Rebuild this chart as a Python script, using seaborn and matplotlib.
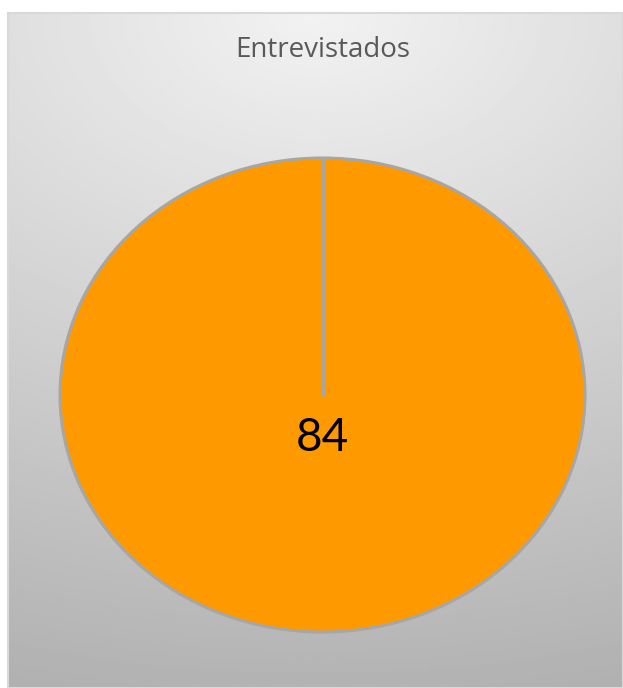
import numpy as np
import seaborn as sns
import matplotlib.pyplot as plt

# data
categories = ['Entrevistados']
values = [84]
slice_colors = ['#ff9900']
title = 'Entrevistados'

sns.set_style('white')
plt.rcParams['font.family'] = ['Lato', 'DejaVu Sans']

fig = plt.figure(figsize=(6.23, 6.88), dpi=100)

# chart area background with a soft grey gradient
bg = fig.add_axes([8 / 623, 0, 615 / 623, 675 / 688])
yy, xx = np.mgrid[0:1:300j, 0:1:300j]
r = np.sqrt(((xx - 0.5) / 0.5 * 0.3) ** 2 + yy ** 2)
shade = (242 - 63 * r) / 255
bg.imshow(shade, cmap='gray', vmin=0, vmax=1, aspect='auto',
          extent=[0, 1, 1, 0], interpolation='bilinear')
bg.set_xticks([])
bg.set_yticks([])
for s in bg.spines.values():
    s.set_color('#d9d9d9')
    s.set_linewidth(1.5)

bg.text(0.512, 1 - 37 / 675, title, transform=bg.transAxes, ha='center',
        va='center', fontsize=20, color='#595959', family='Open Sans')

# pie
ax = fig.add_axes([60 / 623, 56 / 688, 525 / 623, 474 / 688])
start = 90
wedges, texts, autotexts = ax.pie(
    values, colors=slice_colors, startangle=start, counterclock=True,
    autopct=lambda p: f'{p * sum(values) / 100:.0f}', pctdistance=0.18,
    wedgeprops=dict(edgecolor='#a6a6a6', linewidth=2.2),
    textprops=dict(fontsize=33, color='black'))
# radial border of the slice (full-circle wedge does not draw it)
ax.plot([0, np.cos(np.radians(start))], [0, np.sin(np.radians(start))],
        color='#a6a6a6', linewidth=2.2, zorder=3)
for t in autotexts:
    t.set_zorder(4)
ax.set_aspect('auto')
ax.set_xlim(-1, 1)
ax.set_ylim(-1, 1)
ax.axis('off')

fig.savefig('out.png', dpi=100)
